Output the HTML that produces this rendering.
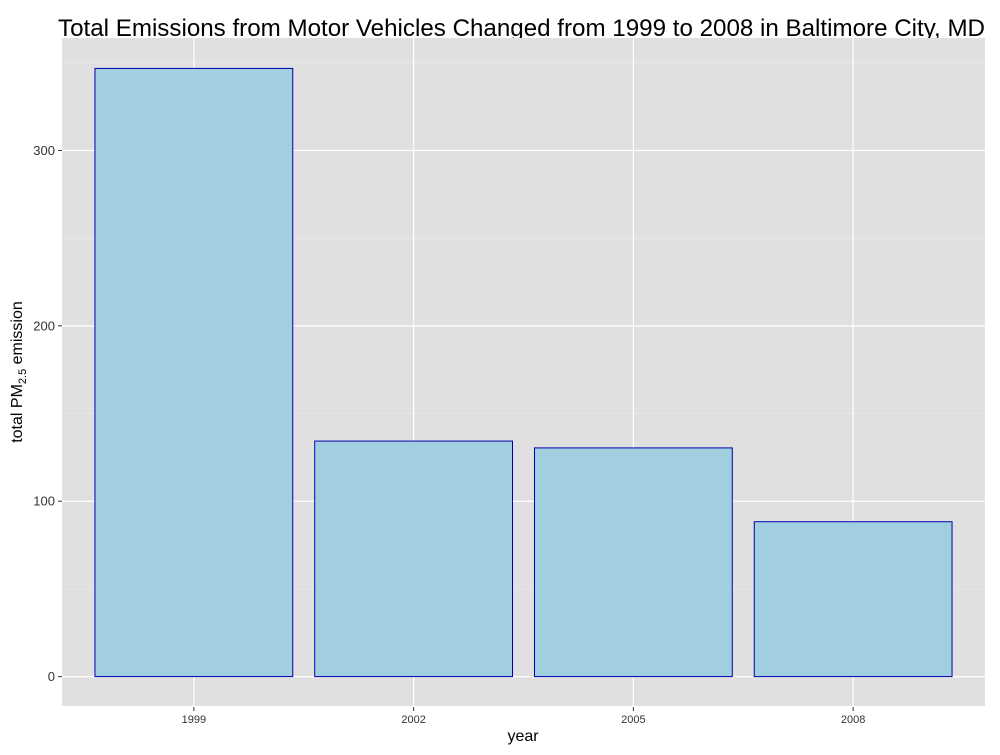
<!DOCTYPE html>
<html><head><meta charset="utf-8"><style>
body{margin:0;background:#fff;}
svg text{font-family:"Liberation Sans",sans-serif;}
</style></head><body>
<svg id="chart" width="1000" height="750">
<text x="58" y="36" font-size="24" textLength="927" lengthAdjust="spacingAndGlyphs" fill="#000">Total Emissions from Motor Vehicles Changed from 1999 to 2008 in Baltimore City, MD</text>
<rect x="62" y="38" width="923" height="668" fill="#e0e0e0"/>
<g id="grid"></g>
<g id="bars"></g>
<g id="axes"></g>
<text x="523" y="741" font-size="16" text-anchor="middle" fill="#000">year</text>
<text transform="translate(22,372) rotate(-90)" font-size="16" text-anchor="middle" fill="#000">total PM<tspan font-size="11" dy="4">2.5</tspan><tspan dy="-4"> emission</tspan></text>
</svg>
<script>
const categories = ["1999","2002","2005","2008"];
const values = [346.8, 134.3, 130.4, 88.3];
const yTicks = [0,100,200,300];
const NS="http://www.w3.org/2000/svg";
const L=62,R=985,T=38,B=707;
const ymin=-0.05*Math.max(...values), ymax=1.05*Math.max(...values);
const y=v=>B-(v-ymin)/(ymax-ymin)*(B-T);
const n=categories.length;
const band=(R-L)/(n-1+1.2);
const x=i=>L+band*(0.6+i);
function mk(tag,attrs,parent){const e=document.createElementNS(NS,tag);for(const k in attrs)e.setAttribute(k,attrs[k]);document.getElementById(parent).appendChild(e);return e;}
for(let i=0;i<yTicks.length;i++){
  const a=yTicks[i], b=i+1<yTicks.length?yTicks[i+1]:a+(yTicks[1]-yTicks[0]);
  const m=(a+b)/2;
  if(y(m)>=T){const g=mk("line",{x1:L,x2:R,y1:y(m),y2:y(m),stroke:"#ebebeb","stroke-width":0.6},"grid");
  
  }
}
yTicks.forEach(t=>{
  const g=mk("line",{x1:L,x2:R,y1:y(t),y2:y(t),stroke:"#fff","stroke-width":1.2},"grid");
  
  
  const tk=mk("line",{x1:L-4,x2:L,y1:y(t),y2:y(t),stroke:"#333","stroke-width":1},"axes");
  
  
  const tx=mk("text",{x:L-7,y:y(t)+4.5,"font-size":13,"text-anchor":"end",fill:"#333"},"axes");
  tx.textContent=t;
  
  
});
categories.forEach((c,i)=>{
  const g=mk("line",{x1:x(i),x2:x(i),y1:T,y2:B,stroke:"#fff","stroke-width":1.2},"grid");
  
  
  const w=band*0.9;
  const r=mk("rect",{x:x(i)-w/2,y:y(values[i]),width:w,height:y(0)-y(values[i]),fill:"#a2cfe0",stroke:"#0000b0","stroke-width":1},"bars");
  
  
  const tk=mk("line",{x1:x(i),x2:x(i),y1:B,y2:B+4,stroke:"#333","stroke-width":1},"axes");
  
  
  const tx=mk("text",{x:x(i),y:B+16,"font-size":11,"text-anchor":"middle",fill:"#333"},"axes");
  tx.textContent=c;
  
  
});
</script>
</body></html>
